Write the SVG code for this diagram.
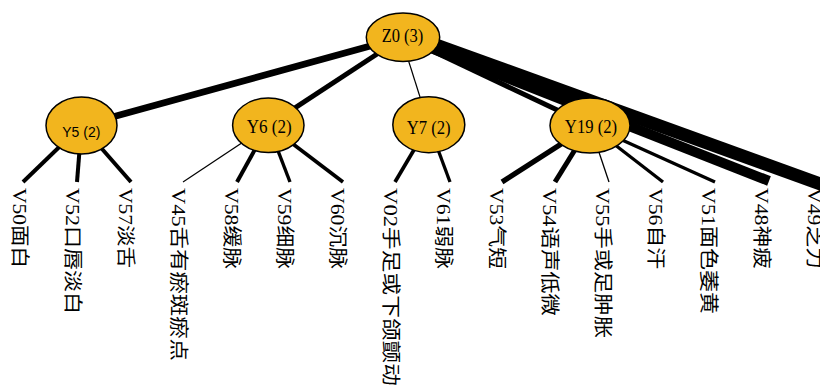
<svg xmlns="http://www.w3.org/2000/svg" width="820" height="388" viewBox="0 0 820 388">
<style>
.edge{stroke:#000;fill:none;stroke-linecap:butt}
.node{fill:#F2B51E;stroke:#000;stroke-width:1.5}
.nl{font-family:"Liberation Serif","Times New Roman",serif;font-size:19px;fill:#000;text-anchor:middle}
.nls{font-family:"Liberation Sans",Arial,sans-serif;font-size:15.5px;fill:#000;text-anchor:middle}
.leaf{font-family:"Liberation Serif","Noto Sans CJK SC",serif;font-size:19px;fill:#000}
</style>
<rect width="820" height="388" fill="#fff"/>
<g id="connectors">
<line class="edge" x1="403" y1="37" x2="81.5" y2="125.5" stroke-width="6.7"/>
<line class="edge" x1="403" y1="37" x2="268.3" y2="125.3" stroke-width="5"/>
<line class="edge" x1="401" y1="37" x2="428.8" y2="124.7" stroke-width="1.2"/>
<line class="edge" x1="403" y1="37" x2="590" y2="125.5" stroke-width="5"/>
<line class="edge" x1="403" y1="37" x2="769" y2="181" stroke-width="10"/>
<line class="edge" x1="403" y1="33" x2="826" y2="186" stroke-width="13"/>
<line class="edge" x1="81.5" y1="125.5" x2="23" y2="182" stroke-width="4"/>
<line class="edge" x1="81.5" y1="125.5" x2="77" y2="182" stroke-width="4"/>
<line class="edge" x1="81.5" y1="125.5" x2="131" y2="182" stroke-width="4"/>
<line class="edge" x1="268.3" y1="125.3" x2="183" y2="182" stroke-width="1.2"/>
<line class="edge" x1="268.3" y1="125.3" x2="237" y2="182" stroke-width="4"/>
<line class="edge" x1="268.3" y1="125.3" x2="290" y2="182" stroke-width="3.4"/>
<line class="edge" x1="268.3" y1="125.3" x2="343" y2="182" stroke-width="3.7"/>
<line class="edge" x1="428.8" y1="124.7" x2="395" y2="182" stroke-width="3.7"/>
<line class="edge" x1="428.8" y1="124.7" x2="450" y2="182" stroke-width="3.3"/>
<line class="edge" x1="590" y1="125.5" x2="502" y2="182" stroke-width="5.3"/>
<line class="edge" x1="590" y1="125.5" x2="555" y2="182" stroke-width="5"/>
<line class="edge" x1="590" y1="125.5" x2="609" y2="182" stroke-width="1.3"/>
<line class="edge" x1="590" y1="125.5" x2="663" y2="182" stroke-width="3.3"/>
<line class="edge" x1="590" y1="125.5" x2="715" y2="182" stroke-width="3.3"/>
</g>
<g id="Z0"><ellipse class="node" cx="403" cy="37.3" rx="36.7" ry="24.3"/><text class="nl" x="402.5" y="41.7" textLength="41.7" lengthAdjust="spacingAndGlyphs">Z0 (3)</text></g>
<g id="Y5"><ellipse class="node" cx="81.5" cy="125.5" rx="35.5" ry="28.5"/><text class="nls" x="81.3" y="137" textLength="38" lengthAdjust="spacingAndGlyphs">Y5 (2)</text></g>
<g id="Y6"><ellipse class="node" cx="268.3" cy="125.3" rx="35.7" ry="27.3"/><text class="nl" x="269.2" y="133" textLength="45" lengthAdjust="spacingAndGlyphs">Y6 (2)</text></g>
<g id="Y7"><ellipse class="node" cx="428.8" cy="124.7" rx="36" ry="28"/><text class="nl" x="428.7" y="134" textLength="44" lengthAdjust="spacingAndGlyphs">Y7 (2)</text></g>
<g id="Y19"><ellipse class="node" cx="590" cy="125.5" rx="40" ry="27.5"/><text class="nl" x="591" y="133.3" textLength="52.3" lengthAdjust="spacingAndGlyphs">Y19 (2)</text></g>
<g id="V50"><text class="leaf" transform="translate(13,188) rotate(90)" textLength="80" lengthAdjust="spacingAndGlyphs">V50面白</text></g>
<g id="V52"><text class="leaf" transform="translate(66,188) rotate(90)" textLength="126" lengthAdjust="spacingAndGlyphs">V52口唇淡白</text></g>
<g id="V57"><text class="leaf" transform="translate(119,188) rotate(90)" textLength="80" lengthAdjust="spacingAndGlyphs">V57淡舌</text></g>
<g id="V45"><text class="leaf" transform="translate(172,188) rotate(90)" textLength="173" lengthAdjust="spacingAndGlyphs">V45舌有瘀斑瘀点</text></g>
<g id="V58"><text class="leaf" transform="translate(225,188) rotate(90)" textLength="81" lengthAdjust="spacingAndGlyphs">V58缓脉</text></g>
<g id="V59"><text class="leaf" transform="translate(278,188) rotate(90)" textLength="81" lengthAdjust="spacingAndGlyphs">V59细脉</text></g>
<g id="V60"><text class="leaf" transform="translate(331,188) rotate(90)" textLength="81" lengthAdjust="spacingAndGlyphs">V60沉脉</text></g>
<g id="V02"><text class="leaf" transform="translate(384,188) rotate(90)" textLength="198" lengthAdjust="spacingAndGlyphs">V02手足或下颌颤动</text></g>
<g id="V61"><text class="leaf" transform="translate(437,188) rotate(90)" textLength="81" lengthAdjust="spacingAndGlyphs">V61弱脉</text></g>
<g id="V53"><text class="leaf" transform="translate(490,188) rotate(90)" textLength="81" lengthAdjust="spacingAndGlyphs">V53气短</text></g>
<g id="V54"><text class="leaf" transform="translate(543,188) rotate(90)" textLength="128" lengthAdjust="spacingAndGlyphs">V54语声低微</text></g>
<g id="V55"><text class="leaf" transform="translate(596,188) rotate(90)" textLength="150" lengthAdjust="spacingAndGlyphs">V55手或足肿胀</text></g>
<g id="V56"><text class="leaf" transform="translate(649,188) rotate(90)" textLength="81" lengthAdjust="spacingAndGlyphs">V56自汗</text></g>
<g id="V51"><text class="leaf" transform="translate(702,188) rotate(90)" textLength="126" lengthAdjust="spacingAndGlyphs">V51面色萎黄</text></g>
<g id="V48"><text class="leaf" transform="translate(755,188) rotate(90)" textLength="81" lengthAdjust="spacingAndGlyphs">V48神疲</text></g>
<g id="V49"><text class="leaf" transform="translate(808,188) rotate(90)" textLength="81" lengthAdjust="spacingAndGlyphs">V49乏力</text></g>
</svg>
